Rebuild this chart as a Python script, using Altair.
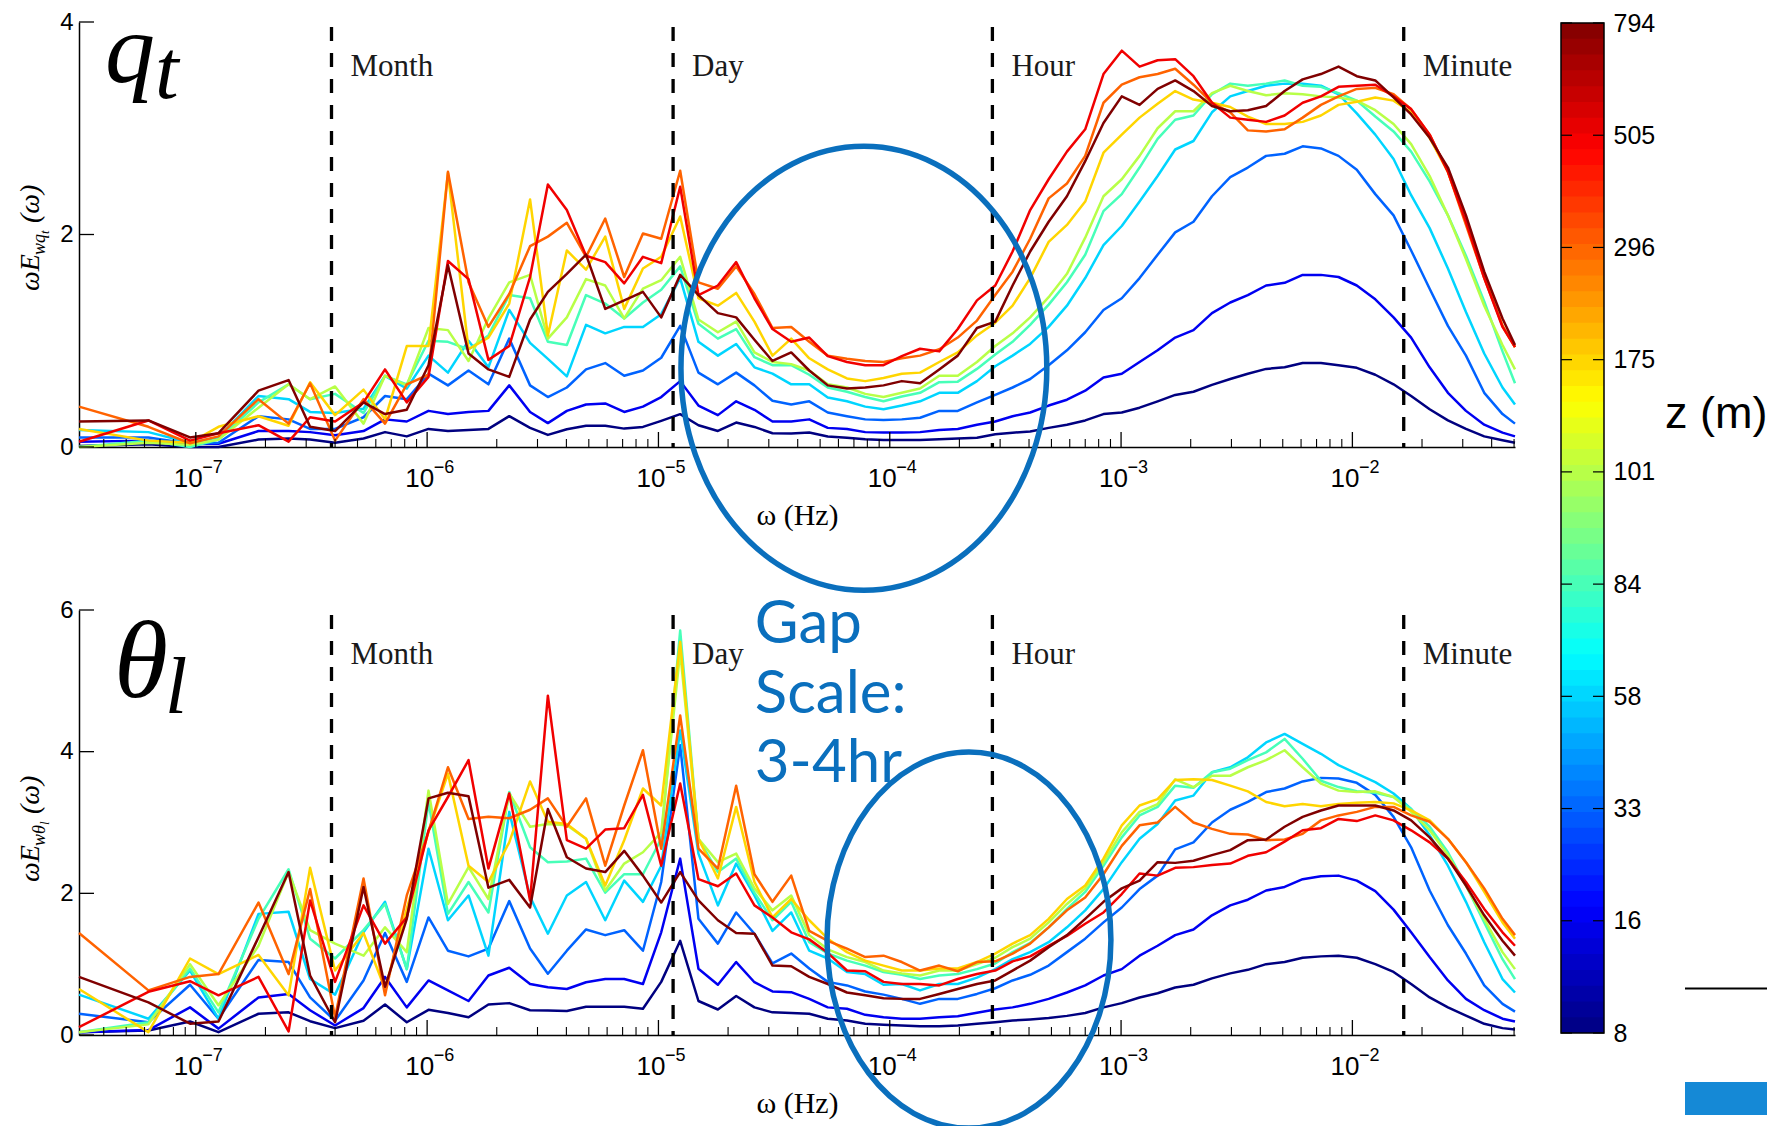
import math
import altair as alt
import pandas as pd

# ---------------- data ----------------
# frequency bins (log10 of Hz)
log_freq = [-7.505, -7.205, -7.025, -6.902, -6.729, -6.599, -6.506, -6.398, -6.275, -6.182,
            -6.088, -5.994, -5.910, -5.821, -5.735, -5.645, -5.555, -5.478, -5.396, -5.313,
            -5.230, -5.148, -5.067, -4.988, -4.906, -4.827, -4.743, -4.664, -4.585, -4.507,
            -4.426, -4.348, -4.268, -4.185, -4.106, -4.027, -3.948, -3.869, -3.786, -3.706,
            -3.623, -3.544, -3.469, -3.393, -3.313, -3.234, -3.155, -3.076, -2.997, -2.920,
            -2.842, -2.766, -2.687, -2.607, -2.528, -2.452, -2.373, -2.293, -2.215, -2.136,
            -2.060, -1.981, -1.901, -1.822, -1.746, -1.666, -1.587, -1.509, -1.430, -1.351,
            -1.297]

heights = ["8", "16", "33", "58", "84", "101", "175", "296", "505", "794"]

# top panel: omega E_{w q_t}
q_8 = [0.01, 0.025, 0.0, 0.0, 0.07, 0.08, 0.07, 0.04, 0.08, 0.14, 0.10, 0.17, 0.15, 0.16, 0.17, 0.29, 0.18,
       0.114, 0.167, 0.20, 0.20, 0.173, 0.189, 0.246, 0.309, 0.205, 0.151, 0.230, 0.189, 0.129, 0.126, 0.136,
       0.098, 0.088, 0.072, 0.066, 0.066, 0.066, 0.072, 0.079, 0.088,
       0.12, 0.135, 0.145, 0.18, 0.21, 0.25, 0.31, 0.325, 0.37, 0.43, 0.49, 0.52, 0.585, 0.64, 0.69, 0.735,
       0.75, 0.79, 0.79, 0.77, 0.745, 0.68, 0.59, 0.48, 0.355, 0.25, 0.17, 0.10, 0.063, 0.04]
q_16 = [0.05, 0.06, 0.03, 0.03, 0.15, 0.15, 0.14, 0.11, 0.15, 0.26, 0.24, 0.34, 0.31, 0.33, 0.34, 0.58, 0.33,
        0.225, 0.34, 0.40, 0.41, 0.33, 0.38, 0.47, 0.62, 0.39, 0.30, 0.43, 0.35, 0.24, 0.24, 0.26, 0.18, 0.17,
        0.14, 0.136, 0.136, 0.14, 0.16, 0.17, 0.21,
        0.24, 0.29, 0.325, 0.39, 0.445, 0.53, 0.655, 0.69, 0.80, 0.91, 1.03, 1.10, 1.26, 1.36, 1.43, 1.52,
        1.545, 1.62, 1.62, 1.60, 1.52, 1.39, 1.22, 1.03, 0.75, 0.51, 0.34, 0.21, 0.135, 0.10]
q_33 = [0.09, 0.09, 0.03, 0.04, 0.29, 0.26, 0.17, 0.17, 0.28, 0.48, 0.45, 0.69, 0.58, 0.72, 0.59, 1.02, 0.58,
        0.47, 0.56, 0.73, 0.79, 0.67, 0.72, 0.84, 1.14, 0.70, 0.59, 0.70, 0.58, 0.435, 0.40, 0.43, 0.325, 0.29,
        0.26, 0.255, 0.26, 0.275, 0.34, 0.34, 0.42,
        0.49, 0.56, 0.64, 0.77, 0.91, 1.08, 1.29, 1.40, 1.59, 1.81, 2.02, 2.12, 2.36, 2.54, 2.63, 2.74,
        2.76, 2.83, 2.81, 2.74, 2.61, 2.38, 2.18, 1.85, 1.49, 1.14, 0.86, 0.51, 0.31, 0.22]
q_58 = [0.16, 0.14, 0.04, 0.09, 0.48, 0.45, 0.33, 0.32, 0.36, 0.67, 0.55, 0.86, 0.70, 1.00, 0.75, 1.29, 0.98,
        0.83, 0.665, 1.15, 1.07, 1.13, 1.13, 1.25, 1.59, 0.99, 0.86, 0.97, 0.75, 0.69, 0.59, 0.59, 0.465, 0.43,
        0.38, 0.356, 0.39, 0.43, 0.51, 0.51, 0.62,
        0.76, 0.86, 0.97, 1.13, 1.33, 1.59, 1.90, 2.08, 2.31, 2.55, 2.80, 2.88, 3.15, 3.30, 3.35, 3.40,
        3.42, 3.42, 3.40, 3.32, 3.14, 2.94, 2.71, 2.37, 2.06, 1.68, 1.27, 0.88, 0.56, 0.40]
q_84 = [0.0, 0.06, 0.0, 0.07, 0.42, 0.59, 0.45, 0.50, 0.32, 0.67, 0.59, 1.00, 0.99, 0.92, 1.05, 1.43, 1.40,
        0.99, 0.96, 1.43, 1.35, 1.21, 1.36, 1.48, 1.70, 1.16, 1.02, 1.11, 0.845, 0.77, 0.77, 0.68, 0.56, 0.52,
        0.47, 0.43, 0.475, 0.51, 0.61, 0.615, 0.735,
        0.87, 0.99, 1.15, 1.34, 1.55, 1.81, 2.22, 2.38, 2.63, 2.90, 3.08, 3.12, 3.32, 3.42, 3.40, 3.42,
        3.45, 3.40, 3.39, 3.33, 3.26, 3.11, 2.97, 2.78, 2.50, 2.18, 1.80, 1.37, 0.90, 0.60]
q_101 = [0.0, 0.04, 0.02, 0.07, 0.37, 0.59, 0.45, 0.57, 0.22, 0.67, 0.58, 1.12, 1.10, 0.81, 1.21, 1.55, 1.62,
         1.02, 1.22, 1.58, 1.52, 1.21, 1.49, 1.57, 1.79, 1.20, 1.08, 1.18, 0.89, 0.80, 0.78, 0.72, 0.59, 0.56,
         0.50, 0.47, 0.51, 0.55, 0.67, 0.67, 0.80,
         0.95, 1.07, 1.22, 1.41, 1.63, 1.97, 2.36, 2.52, 2.74, 3.00, 3.16, 3.16, 3.33, 3.40, 3.35, 3.31,
         3.33, 3.32, 3.30, 3.29, 3.26, 3.17, 3.04, 2.85, 2.55, 2.18, 1.77, 1.33, 0.96, 0.73]
q_175 = [0.17, 0.06, 0.04, 0.19, 0.29, 0.20, 0.61, 0.30, 0.54, 0.26, 0.95, 0.95, 2.58, 0.92, 1.03, 1.35, 2.33,
         1.05, 1.85, 1.67, 1.98, 1.30, 1.68, 1.79, 2.17, 1.40, 1.33, 1.45, 1.18, 0.86, 1.02, 0.835, 0.73, 0.645,
         0.62, 0.65, 0.69, 0.70, 0.80, 0.89, 1.05,
         1.17, 1.33, 1.59, 1.93, 2.09, 2.31, 2.77, 2.94, 3.10, 3.23, 3.35, 3.27, 3.24, 3.20, 3.11, 3.04,
         3.04, 3.06, 3.12, 3.22, 3.25, 3.29, 3.26, 3.15, 2.91, 2.59, 2.12, 1.62, 1.14, 0.94]
q_296 = [0.38, 0.19, 0.035, 0.10, 0.45, 0.22, 0.60, 0.06, 0.45, 0.22, 0.59, 0.68, 2.59, 1.55, 1.13, 1.44, 1.89,
         1.98, 2.11, 1.79, 2.15, 1.60, 2.01, 1.96, 2.60, 1.55, 1.49, 1.70, 1.44, 1.12, 1.13, 0.99, 0.86, 0.83,
         0.81, 0.80, 0.835, 0.86, 0.92, 1.03, 1.19,
         1.43, 1.65, 1.96, 2.34, 2.48, 2.74, 3.24, 3.41, 3.48, 3.51, 3.56, 3.41, 3.24, 3.15, 2.98, 2.97,
         2.99, 3.10, 3.22, 3.30, 3.37, 3.38, 3.32, 3.18, 2.94, 2.59, 2.09, 1.59, 1.14, 0.94]
q_505 = [0.05, 0.25, 0.06, 0.13, 0.205, 0.05, 0.28, 0.24, 0.42, 0.73, 0.42, 0.66, 1.75, 1.58, 0.82, 0.95, 1.60,
         2.47, 2.23, 1.80, 1.74, 1.54, 1.79, 1.73, 2.45, 1.43, 1.52, 1.74, 1.40, 1.11, 0.99, 1.03, 0.855, 0.80,
         0.77, 0.77, 0.855, 0.925, 0.90, 1.11, 1.38,
         1.52, 1.84, 2.23, 2.52, 2.78, 2.99, 3.51, 3.73, 3.58, 3.64, 3.65, 3.49, 3.24, 3.10, 3.08, 3.06,
         3.12, 3.24, 3.30, 3.39, 3.40, 3.41, 3.30, 3.18, 2.94, 2.59, 2.12, 1.59, 1.13, 0.94]
q_794 = [0.24, 0.25, 0.09, 0.13, 0.53, 0.63, 0.19, 0.15, 0.42, 0.31, 0.35, 0.77, 1.71, 0.88, 0.73, 0.66, 1.20,
         1.46, 1.63, 1.81, 1.30, 1.38, 1.46, 1.22, 1.62, 1.43, 1.26, 1.22, 1.01, 0.81, 0.89, 0.72, 0.58, 0.55,
         0.56, 0.58, 0.62, 0.60, 0.73, 0.86, 1.12,
         1.18, 1.52, 1.84, 2.12, 2.36, 2.69, 3.05, 3.30, 3.22, 3.37, 3.45, 3.35, 3.21, 3.16, 3.17, 3.21,
         3.35, 3.46, 3.51, 3.58, 3.49, 3.45, 3.29, 3.13, 2.91, 2.63, 2.18, 1.65, 1.21, 0.96]

# bottom panel: omega E_{w theta_l}
t_8 = [0.04, 0.064, 0.19, 0.04, 0.30, 0.32, 0.195, 0.097, 0.20, 0.43, 0.18, 0.355, 0.31, 0.25, 0.43, 0.45, 0.35,
       0.345, 0.34, 0.40, 0.40, 0.40, 0.37, 0.75, 1.33, 0.48, 0.36, 0.55, 0.39, 0.32, 0.31, 0.30, 0.23, 0.205,
       0.158, 0.144, 0.134, 0.125, 0.125, 0.134, 0.158,
       0.18, 0.205, 0.22, 0.24, 0.27, 0.31, 0.39, 0.45, 0.53, 0.59, 0.67, 0.71, 0.80, 0.87, 0.92, 1.00,
       1.03, 1.09, 1.11, 1.12, 1.09, 1.00, 0.89, 0.72, 0.53, 0.39, 0.275, 0.158, 0.097, 0.078]
t_16 = [0.04, 0.07, 0.39, 0.09, 0.53, 0.58, 0.35, 0.134, 0.38, 0.82, 0.39, 0.77, 0.63, 0.48, 0.84, 0.95, 0.72,
        0.675, 0.65, 0.745, 0.79, 0.79, 0.72, 1.45, 2.49, 0.935, 0.71, 1.03, 0.745, 0.615, 0.605, 0.51, 0.39,
        0.37, 0.285, 0.25, 0.23, 0.23, 0.25, 0.266, 0.313,
        0.36, 0.39, 0.44, 0.51, 0.60, 0.70, 0.84, 0.93, 1.12, 1.26, 1.41, 1.49, 1.69, 1.83, 1.91, 2.04,
        2.09, 2.20, 2.24, 2.25, 2.18, 2.03, 1.77, 1.45, 1.10, 0.77, 0.51, 0.35, 0.23, 0.19]
t_33 = [0.30, 0.18, 0.71, 0.23, 1.06, 1.03, 0.53, 0.20, 0.77, 1.44, 0.75, 1.66, 1.19, 1.11, 1.22, 1.89, 1.22,
        0.865, 1.19, 1.49, 1.41, 1.48, 1.19, 2.16, 4.09, 1.64, 1.29, 1.73, 1.43, 1.01, 1.15, 0.94, 0.75, 0.70,
        0.615, 0.57, 0.51, 0.44, 0.51, 0.51, 0.58,
        0.66, 0.77, 0.85, 0.98, 1.17, 1.36, 1.59, 1.80, 2.06, 2.25, 2.62, 2.72, 3.00, 3.18, 3.29, 3.43,
        3.48, 3.58, 3.63, 3.62, 3.56, 3.39, 3.08, 2.65, 2.04, 1.55, 1.15, 0.70, 0.44, 0.33]
t_58 = [0.57, 0.23, 0.91, 0.23, 1.71, 1.74, 0.79, 0.57, 1.45, 1.88, 0.93, 2.63, 1.62, 1.97, 1.12, 3.15, 1.95,
        1.43, 1.97, 2.16, 1.62, 2.18, 1.88, 2.39, 4.30, 2.56, 1.83, 2.42, 1.97, 1.47, 1.73, 1.19, 1.08, 0.89,
        0.86, 0.71, 0.72, 0.63, 0.72, 0.72, 0.81,
        0.93, 1.07, 1.17, 1.31, 1.52, 1.76, 2.06, 2.44, 2.77, 2.98, 3.31, 3.38, 3.71, 3.78, 3.92, 4.13,
        4.25, 4.11, 3.97, 3.81, 3.69, 3.57, 3.41, 3.19, 2.82, 2.39, 1.88, 1.31, 0.79, 0.60]
t_84 = [0.04, 0.18, 0.94, 0.32, 1.64, 2.34, 1.36, 1.08, 1.48, 1.85, 0.93, 3.29, 1.71, 2.16, 1.73, 3.43, 2.65,
        2.44, 2.45, 2.49, 2.01, 2.27, 2.27, 2.77, 5.71, 2.77, 2.30, 2.49, 2.01, 1.62, 1.88, 1.31, 1.15, 1.05,
        0.98, 0.89, 0.85, 0.79, 0.84, 0.86, 0.93,
        1.01, 1.17, 1.30, 1.52, 1.78, 2.02, 2.39, 2.79, 3.10, 3.22, 3.52, 3.49, 3.71, 3.76, 3.88, 3.99,
        4.18, 3.90, 3.59, 3.50, 3.44, 3.42, 3.36, 3.19, 2.94, 2.58, 2.11, 1.59, 1.07, 0.79]
t_101 = [0.04, 0.15, 1.00, 0.42, 1.26, 2.30, 1.48, 1.29, 1.12, 1.52, 1.17, 3.45, 1.85, 2.37, 1.92, 3.41, 2.94,
         2.98, 2.96, 2.77, 2.04, 2.42, 2.58, 2.86, 5.41, 2.77, 2.44, 2.56, 2.07, 1.76, 1.97, 1.41, 1.21, 1.10,
         1.03, 0.91, 0.87, 0.84, 0.91, 0.91, 1.00,
         1.09, 1.24, 1.36, 1.59, 1.85, 2.07, 2.44, 2.86, 3.15, 3.26, 3.61, 3.50, 3.66, 3.66, 3.78, 3.88,
         4.02, 3.78, 3.55, 3.45, 3.43, 3.44, 3.36, 3.15, 2.89, 2.54, 2.11, 1.64, 1.17, 0.93]
t_175 = [0.65, 0.04, 1.08, 0.86, 1.13, 0.56, 2.36, 0.91, 1.44, 0.65, 1.78, 2.87, 3.69, 2.39, 2.16, 2.72, 3.58,
         3.01, 2.98, 2.77, 2.11, 2.75, 3.48, 3.24, 5.55, 2.77, 2.21, 3.22, 2.16, 1.66, 1.92, 1.62, 1.36, 1.17,
         1.05, 0.98, 0.91, 0.91, 0.94, 0.94, 1.03,
         1.15, 1.29, 1.41, 1.64, 1.92, 2.11, 2.49, 2.96, 3.24, 3.33, 3.60, 3.61, 3.60, 3.52, 3.44, 3.29,
         3.23, 3.26, 3.23, 3.26, 3.28, 3.29, 3.27, 3.17, 3.03, 2.77, 2.44, 2.02, 1.59, 1.36]
t_296 = [1.44, 0.63, 0.82, 0.86, 1.87, 0.86, 2.06, 0.25, 2.21, 0.56, 1.97, 2.87, 3.78, 3.05, 3.08, 3.06, 3.18,
         3.34, 2.94, 3.34, 2.39, 3.24, 4.02, 2.63, 4.51, 2.63, 2.35, 3.52, 2.27, 1.88, 2.25, 1.47, 1.33, 1.22,
         1.10, 1.12, 1.03, 0.91, 0.98, 0.90, 1.03,
         1.04, 1.15, 1.29, 1.52, 1.76, 1.94, 2.27, 2.67, 2.96, 3.00, 3.22, 3.00, 2.91, 2.84, 2.83, 2.75,
         2.76, 2.84, 3.03, 3.10, 3.15, 3.22, 3.22, 3.10, 3.01, 2.77, 2.44, 2.07, 1.64, 1.41]
t_505 = [0.11, 0.61, 0.76, 0.56, 0.82, 0.05, 1.90, 0.75, 1.83, 1.29, 1.66, 2.89, 3.36, 3.88, 2.35, 3.41, 1.90,
         4.79, 2.75, 2.63, 2.90, 2.92, 3.39, 2.39, 3.55, 2.20, 2.10, 2.28, 1.83, 1.66, 1.45, 1.35, 1.16, 0.91,
         0.90, 0.75, 0.72, 0.72, 0.70, 0.79, 0.86,
         0.91, 1.04, 1.11, 1.26, 1.40, 1.57, 1.73, 1.99, 2.28, 2.25, 2.36, 2.37, 2.40, 2.42, 2.53, 2.58,
         2.73, 2.89, 2.92, 3.05, 3.02, 3.10, 3.03, 2.89, 2.72, 2.49, 2.16, 1.78, 1.45, 1.26]
t_794 = [0.82, 0.46, 0.16, 0.19, 1.38, 2.30, 0.84, 0.18, 2.09, 0.68, 1.64, 3.34, 3.42, 3.37, 2.08, 2.19, 1.80,
         3.19, 2.51, 2.35, 2.30, 2.60, 2.25, 1.87, 2.30, 1.90, 1.62, 1.44, 1.43, 0.98, 0.97, 0.82, 0.72, 0.60,
         0.56, 0.52, 0.51, 0.51, 0.58, 0.65, 0.72,
         0.77, 0.91, 1.05, 1.24, 1.41, 1.64, 1.88, 2.07, 2.18, 2.44, 2.43, 2.46, 2.54, 2.61, 2.75, 2.76,
         2.94, 3.08, 3.17, 3.24, 3.24, 3.24, 3.17, 3.03, 2.79, 2.49, 2.11, 1.69, 1.33, 1.12]

q_series = [q_8, q_16, q_33, q_58, q_84, q_101, q_175, q_296, q_505, q_794]
t_series = [t_8, t_16, t_33, t_58, t_84, t_101, t_175, t_296, t_505, t_794]

event_freq = [3.86e-7, 1.157e-5, 2.778e-4, 1.667e-2]
event_name = ["Month", "Day", "Hour", "Minute"]
x_decades = [1e-7, 1e-6, 1e-5, 1e-4, 1e-3, 1e-2]
gap_lines = ["Gap", "Scale:", "3-4hr"]

# ---------------- styling ----------------
W, H = 1436, 425
BLUE = "#0A6FBD"
JET_DOMAIN = [0, 1.125, 3.375, 5.625, 7.875, 9]
JET_RANGE = ["#000080", "#0000ff", "#00ffff", "#ffff00", "#ff0000", "#800000"]
freq = [10 ** v for v in log_freq]
XMIN, XMAX = freq[0], freq[-1]
minor = [k * 10.0 ** e for e in range(-8, -1) for k in range(2, 10)
         if XMIN <= k * 10.0 ** e <= XMAX]
exps = pd.DataFrame({"f": x_decades,
                     "e": ["\u2212%d" % round(-math.log10(d)) for d in x_decades]})
CB_EXPR = "[" + ",".join("'%s'" % s for s in heights) + "][round(datum.value)]"
ONE = pd.DataFrame({"a": [0]})


def cscale():
    return alt.Scale(domain=JET_DOMAIN, range=JET_RANGE, interpolate="rgb")


def X():
    return alt.X("f:Q", scale=alt.Scale(type="log", domain=[XMIN, XMAX], nice=False),
                 axis=alt.Axis(values=x_decades, labelExpr="'10'", labelOffset=-8, title="ω (Hz)",
                               titleFont="Liberation Serif", titleFontSize=30, titleFontWeight="normal",
                               titleColor="black", titlePadding=9, labelFont="Liberation Sans",
                               labelFontSize=26, labelColor="black", labelPadding=18, ticks=False,
                               domainColor="black", domainWidth=1.5, grid=False, labelFlush=False))


def Yf(ymax, yvals):
    return alt.Y("v:Q", scale=alt.Scale(domain=[0, ymax], nice=False, zero=True),
                 axis=alt.Axis(values=yvals, title=None, labelFont="Liberation Sans", labelFontSize=24,
                               labelColor="black", labelPadding=6, ticks=False, domainColor="black",
                               domainWidth=1.5, grid=False))


def ptxt(s, x, y, size, angle=0, font="Liberation Serif", style="italic", color="black",
         align="left", baseline="alphabetic", clip=False):
    return alt.Chart(ONE).mark_text(text=s, font=font, fontSize=size, fontStyle=style, color=color,
                                    align=align, baseline=baseline, angle=angle, clip=clip).encode(
        x=alt.value(x), y=alt.value(y))


def long_df(series):
    rows = []
    for i, vals in enumerate(series):
        for f, v in zip(freq, vals):
            rows.append({"f": f, "v": v, "idx": i})
    return pd.DataFrame(rows)


def panel(series, ymax, yvals, ell_f, ell_v, ell_rx, ell_size):
    Y = lambda: Yf(ymax, yvals)
    lines = alt.Chart(long_df(series)).mark_line(strokeWidth=2.5, strokeJoin="round").encode(
        x=X(), y=Y(), color=alt.Color("idx:Q", scale=cscale(), legend=None), detail="idx:N")
    ev = pd.DataFrame({"f": event_freq, "name": event_name})
    dashed = alt.Chart(ev).mark_rule(color="black", strokeWidth=3.3, strokeDash=[14, 12]).encode(
        x=X(), y=alt.value(5), y2=alt.value(H))
    evlab = alt.Chart(ev).mark_text(align="left", baseline="alphabetic", dx=19, font="Liberation Serif",
                                    fontSize=31, color="#1a1a1a").encode(x=X(), y=alt.value(54), text="name:N")
    maj = alt.Chart(pd.DataFrame({"f": x_decades})).mark_rule(color="black", strokeWidth=1.3).encode(
        x=X(), y=alt.value(H), y2=alt.value(H - 15))
    mnr = alt.Chart(pd.DataFrame({"f": minor})).mark_rule(color="black", strokeWidth=1.1).encode(
        x=X(), y=alt.value(H), y2=alt.value(H - 8))
    sup = alt.Chart(exps).mark_text(align="left", baseline="alphabetic", dx=6.5, font="Liberation Sans",
                                    fontSize=18, color="black").encode(x=X(), y=alt.value(H + 26), text="e:N")
    ytk = alt.Chart(pd.DataFrame({"v": yvals})).mark_rule(color="black", strokeWidth=1.3).encode(
        y=Y(), x=alt.value(0), x2=alt.value(15))
    shape = "M -%.3f 0 A %.3f 1 0 1 1 %.3f 0 A %.3f 1 0 1 1 -%.3f 0 Z" % ((ell_rx,) * 5)
    ell = alt.Chart(pd.DataFrame({"f": [ell_f], "v": [ell_v]})).mark_point(
        shape=shape, size=ell_size, filled=False, color=BLUE, strokeWidth=5.5, opacity=1).encode(x=X(), y=Y())
    return [lines, dashed, evlab, maj, mnr, sup, ytk, ell], X, Y


# ---------------- top panel ----------------
top_items, _, _ = panel(q_series, 4, [0, 2, 4], 7.73e-5, 0.741, 0.824, 197136)
top_items += [
    ptxt("q", 26, 59.5, 100, clip=True),
    ptxt("t", 76, 76, 85, clip=True),
    ptxt("ωE", -40, 269, 28, angle=270),
    ptxt("wq", -34, 233, 18, angle=270),
    ptxt("t", -30, 212, 13, angle=270),
    ptxt("(ω)", -40, 201, 28, angle=270),
    ptxt("z (m)", 1586, 392, 45, font="Liberation Sans", style="normal", baseline="middle"),
    alt.Chart(ONE).mark_rule(color="black", strokeWidth=2).encode(
        x=alt.value(1606), x2=alt.value(1688), y=alt.value(966.6)),
    alt.Chart(ONE).mark_rect(color="#1589d6").encode(
        x=alt.value(1606), x2=alt.value(1688), y=alt.value(1060), y2=alt.value(1093)),
]
main_top = alt.layer(*top_items)

# colorbar (independent y scale spanning both panels)
N = 64
cb = pd.DataFrame({"lo": [i * 9 / N for i in range(N)],
                   "hi": [min(9, (i + 1.15) * 9 / N) for i in range(N)],
                   "idx": [(i + 0.5) * 9 / N for i in range(N)]})


def CBY():
    return alt.Y("lo:Q", scale=alt.Scale(domain=[0, 9], range=[1011, 1], nice=False, zero=False),
                 axis=alt.Axis(orient="right", offset=89, values=list(range(10)), labelExpr=CB_EXPR,
                               domain=False, ticks=False, labelPadding=9, labelFont="Liberation Sans",
                               labelFontSize=25, labelColor="black", title=None, grid=False))


cb_rects = alt.Chart(cb).mark_rect().encode(
    x=alt.value(1482), x2=alt.value(1525), y=CBY(), y2="hi:Q",
    color=alt.Color("idx:Q", scale=cscale(), legend=None))
cb_frame = alt.Chart(pd.DataFrame({"lo": [0], "hi": [9]})).mark_rect(
    fillOpacity=0, stroke="black", strokeWidth=1.5).encode(
    x=alt.value(1482), x2=alt.value(1525), y=CBY(), y2="hi:Q")
cb_ticks = pd.DataFrame({"lo": list(range(10))})
cb_tl = alt.Chart(cb_ticks).mark_rule(color="black", strokeWidth=1.2).encode(
    y=CBY(), x=alt.value(1482), x2=alt.value(1493))
cb_tr = alt.Chart(cb_ticks).mark_rule(color="black", strokeWidth=1.2).encode(
    y=CBY(), x=alt.value(1514), x2=alt.value(1525))
colorbar = alt.layer(cb_rects, cb_frame, cb_tl, cb_tr)

top = alt.layer(main_top, colorbar).resolve_scale(y="independent").properties(width=W, height=H)

# ---------------- bottom panel ----------------
bot_items, Xb, Yb = panel(t_series, 6, [0, 2, 4, 6], 2.20e-4, 1.34, 0.755, 141376)
gap_df = pd.DataFrame({"f": [2.61e-5] * 3, "v": [5.535, 4.55, 3.575], "txt": gap_lines})
bot_items += [
    ptxt("θ", 35, 87, 110, clip=True),
    ptxt("l", 86, 103, 80, clip=True),
    ptxt("ωE", -40, 272, 28, angle=270),
    ptxt("wθ", -34, 236, 18, angle=270),
    ptxt("l", -30, 215, 13, angle=270),
    ptxt("(ω)", -40, 204, 28, angle=270),
    alt.Chart(gap_df).mark_text(align="left", baseline="alphabetic", font="Lato", fontSize=60,
                                color=BLUE).encode(x=Xb(), y=Yb(), text="txt:N"),
]
bottom = alt.layer(*bot_items).properties(width=W, height=H)

chart = alt.vconcat(top, bottom, spacing=163, bounds="flush").properties(
    padding={"left": 9, "top": 2, "right": 0, "bottom": 0}
).configure_view(stroke=None)

chart.save("out.html", embed_options={"renderer": "svg", "actions": False})
